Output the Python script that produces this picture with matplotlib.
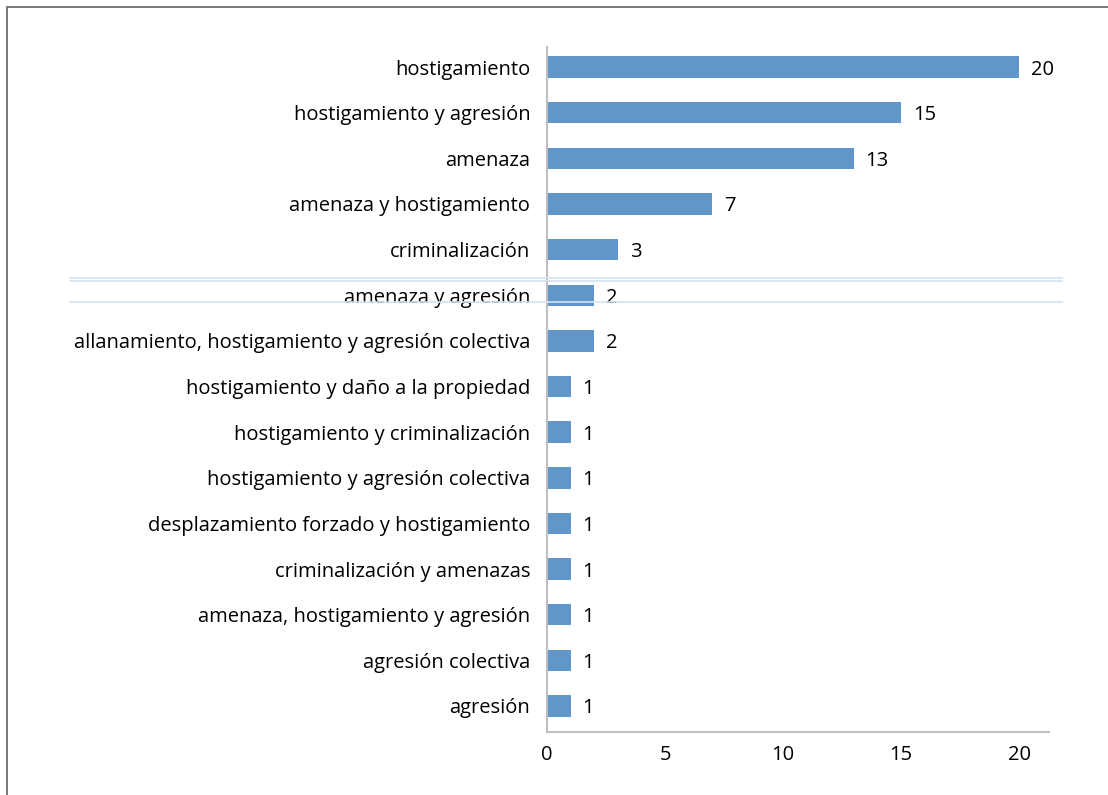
import matplotlib.pyplot as plt
from matplotlib.lines import Line2D
from matplotlib.patches import Rectangle

categories = [
    'hostigamiento',
    'hostigamiento y agresión',
    'amenaza',
    'amenaza y hostigamiento',
    'criminalización',
    'amenaza y agresión',
    'allanamiento, hostigamiento y agresión colectiva',
    'hostigamiento y daño a la propiedad',
    'hostigamiento y criminalización',
    'hostigamiento y agresión colectiva',
    'desplazamiento forzado y hostigamiento',
    'criminalización y amenazas',
    'amenaza, hostigamiento y agresión',
    'agresión colectiva',
    'agresión',
]
values = [20, 15, 13, 7, 3, 2, 2, 1, 1, 1, 1, 1, 1, 1, 1]
xticks = [0, 5, 10, 15, 20]

plt.rcParams['font.family'] = ['Open Sans', 'DejaVu Sans']
fs = 14.5

W, H = 1108, 795
fig = plt.figure(figsize=(W / 100, H / 100), dpi=100)
ax = fig.add_axes([547 / W, 1 - 732 / H, (1049 - 547) / W, (732 - 47) / H])

pos = list(range(len(categories)))
ax.barh(pos, values, height=0.47, color='#6096c8')
for p, v in zip(pos, values):
    ax.text(v + 0.5, p, str(v), va='center_baseline', ha='left', fontsize=fs, color='black')

ax.set_yticks(pos)
ax.set_yticklabels(categories, fontsize=fs)
ax.set_xticks(xticks)
ax.set_xticklabels([str(t) for t in xticks], fontsize=fs)
ax.set_ylim(len(categories) - 1 + 0.57, -0.44)
ax.set_xlim(0, 21.27)

ax.tick_params(axis='y', length=0, pad=12)
ax.tick_params(axis='x', length=0, pad=9)
for s in ['top', 'right']:
    ax.spines[s].set_visible(False)
for s in ['left', 'bottom']:
    ax.spines[s].set_color('#bfbfbf')
    ax.spines[s].set_linewidth(1.5)

# outer frame
fig.patches.append(Rectangle((6.5 / W, -0.1), 1.2, 1 - 6.5 / H + 0.1, transform=fig.transFigure,
                             fill=False, edgecolor='#6e6e6e', linewidth=1.3))

# faint horizontal lines across the middle
for yy in [278, 281, 302]:
    fig.add_artist(Line2D([70 / W, 1062 / W], [1 - yy / H, 1 - yy / H], transform=fig.transFigure,
                          color='#d3e2f0', linewidth=1.2))

fig.savefig('out.png', dpi=100)
